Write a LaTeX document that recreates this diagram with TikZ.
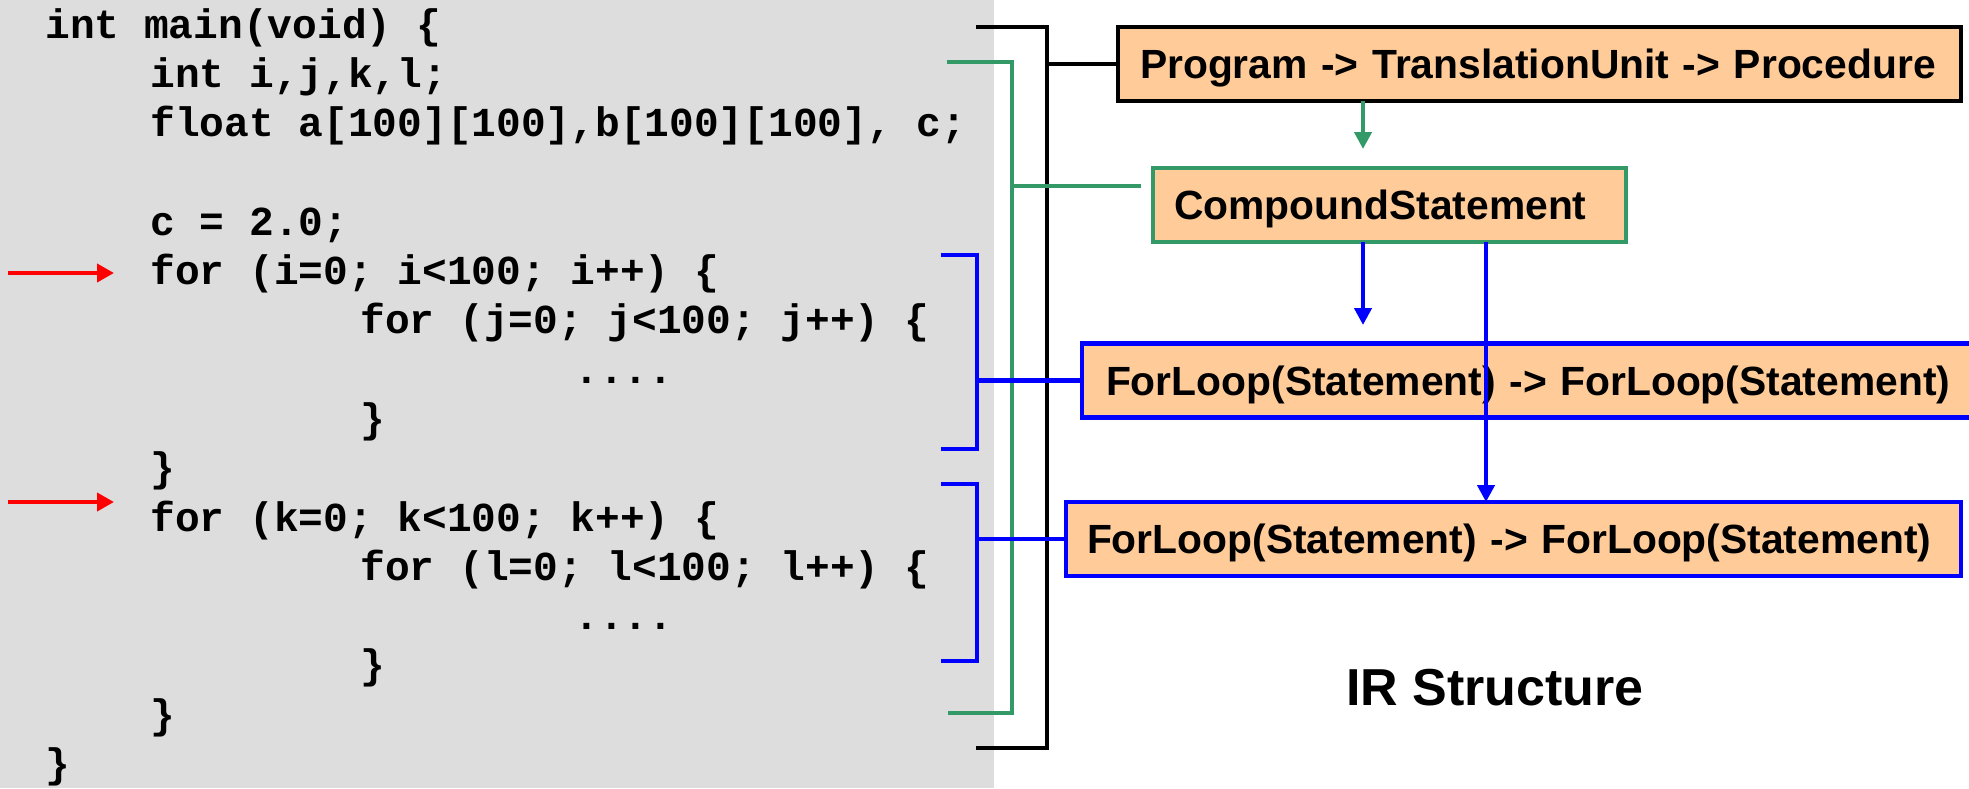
\documentclass[tikz,border=0pt]{standalone}
\usepackage{fontspec}
\newfontfamily\codefont{Liberation Mono}
\newfontfamily\labelfont{Liberation Sans}
\usetikzlibrary{arrows.meta,calc}
\definecolor{codebg}{RGB}{221,221,221}
\definecolor{peach}{RGB}{255,204,153}
\definecolor{pptgreen}{RGB}{51,153,102}
\definecolor{pptblue}{RGB}{0,0,255}
\definecolor{pptred}{RGB}{255,0,0}
\begin{document}
\begin{tikzpicture}[x=0.5pt,y=-0.5pt,
  code/.style={anchor=base west,inner sep=0pt,
    font=\codefont\bfseries\fontsize{20.6pt}{24pt}\selectfont},
  irbox/.style={draw,fill=peach,line width=2.2pt,outer sep=0pt,inner ysep=0pt,
    minimum height=37pt,text height=14.5pt,text depth=0pt,align=left,
    font=\labelfont\bfseries\fontsize{20.4pt}{24pt}\selectfont},
  bracket/.style={line width=2.3pt,line join=miter},
  tree/.style={line width=2.1pt,-{Triangle[length=8.5pt,width=8.5pt]}},
  marker/.style={line width=2pt,pptred,-{Triangle[length=8.5pt,width=9pt]}}]
\useasboundingbox (0,0) rectangle (1969,788);
\fill[codebg] (0,0) rectangle (994,788);

% source listing
\node[code] (l0)  at (45,38)    {int main(void) \{};
\node[code] (l1)  at (150,87.3) {int i,j,k,l;};
\node[code] (l2)  at (150,136.6) {float a[100][100],b[100][100], c;};
\node[code] (l4)  at (150,235.2) {c = 2.0;};
\node[code] (l5)  at (150,284.5) {for (i=0; i<100; i++) \{};
\node[code] (l6)  at (360,333.8) {for (j=0; j<100; j++) \{};
\node[code] (l7)  at (574,383.1) {....};
\node[code] (l8)  at (360,432.4) {\}};
\node[code] (l9)  at (150,481.7) {\}};
\node[code] (l10) at (150,531)   {for (k=0; k<100; k++) \{};
\node[code] (l11) at (360,580.3) {for (l=0; l<100; l++) \{};
\node[code] (l12) at (574,629.6) {....};
\node[code] (l13) at (360,678.9) {\}};
\node[code] (l14) at (150,728.2) {\}};
\node[code] (l15) at (45,777.5)  {\}};

% loop markers
\coordinate (r1a) at (8,273);   \coordinate (r1b) at (114,273);
\coordinate (r2a) at (8,502);   \coordinate (r2b) at (114,502);
\draw[marker] (r1a) -- (r1b);
\draw[marker] (r2a) -- (r2b);

% IR nodes
\node[irbox,inner xsep=11pt,text width=399.5pt] (prog) at (1539.5,64)
  {Program -> TranslationUnit -> Procedure};
\node[irbox,draw=pptgreen,inner xsep=10.5pt,text width=215.5pt] (cs) at (1389.5,205)
  {CompoundStatement};
\node[irbox,draw=pptblue,inner xsep=12pt,text width=425pt] (f1) at (1531,380.5)
  {ForLoop(Statement) -> ForLoop(Statement)};
\node[irbox,draw=pptblue,inner xsep=10.5pt,text width=426.5pt] (f2) at (1513.5,539)
  {ForLoop(Statement) -> ForLoop(Statement)};
\node[anchor=base,inner sep=0pt,font=\labelfont\bfseries\fontsize{26pt}{30pt}\selectfont]
  (irlabel) at (1495,705) {IR Structure};

% black bracket: whole procedure
\coordinate (kTop) at (976,27);   \coordinate (kTopR) at (1047,27);
\coordinate (kBot) at (976,748);  \coordinate (kBotR) at (1047,748);
\draw[bracket] (kTop) -- (kTopR) -- (kBotR) -- (kBot);
\draw[bracket] (kTopR |- prog.west) -- (prog.west);

% green bracket: compound statement
\coordinate (gTop) at (947,62);   \coordinate (gTopR) at (1012,62);
\coordinate (gBot) at (948,713);  \coordinate (gBotR) at (1012,713);
\coordinate (gMid) at (1012,186); \coordinate (gEnd) at (1141,186);
\draw[bracket,pptgreen,line width=2pt] (gTop) -- (gTopR) -- (gBotR) -- (gBot);
\draw[pptgreen,line width=2pt] (gMid) -- (gEnd);

% blue brackets: loop nests
\coordinate (bATop) at (941,255); \coordinate (bATopR) at (977,255);
\coordinate (bABot) at (941,449); \coordinate (bABotR) at (977,449);
\draw[bracket,pptblue] (bATop) -- (bATopR) -- (bABotR) -- (bABot);
\draw[bracket,pptblue] (bATopR |- f1.west) -- (f1.west);
\coordinate (bBTop) at (941,484); \coordinate (bBTopR) at (977,484);
\coordinate (bBBot) at (941,661); \coordinate (bBBotR) at (977,661);
\draw[bracket,pptblue] (bBTop) -- (bBTopR) -- (bBBotR) -- (bBBot);
\draw[bracket,pptblue] (bBTopR |- f2.west) -- (f2.west);

% tree edges
\coordinate (gTip) at (1363,149);
\draw[tree,pptgreen] (gTip |- prog.south) -- (gTip);
\coordinate (bTip) at (1363,325);
\draw[tree,pptblue] (bTip |- cs.south) -- (bTip);
\coordinate (bX) at (1486,0);
\draw[tree,pptblue] (bX |- cs.south) -- (bX |- f2.north);
\end{tikzpicture}
\end{document}
